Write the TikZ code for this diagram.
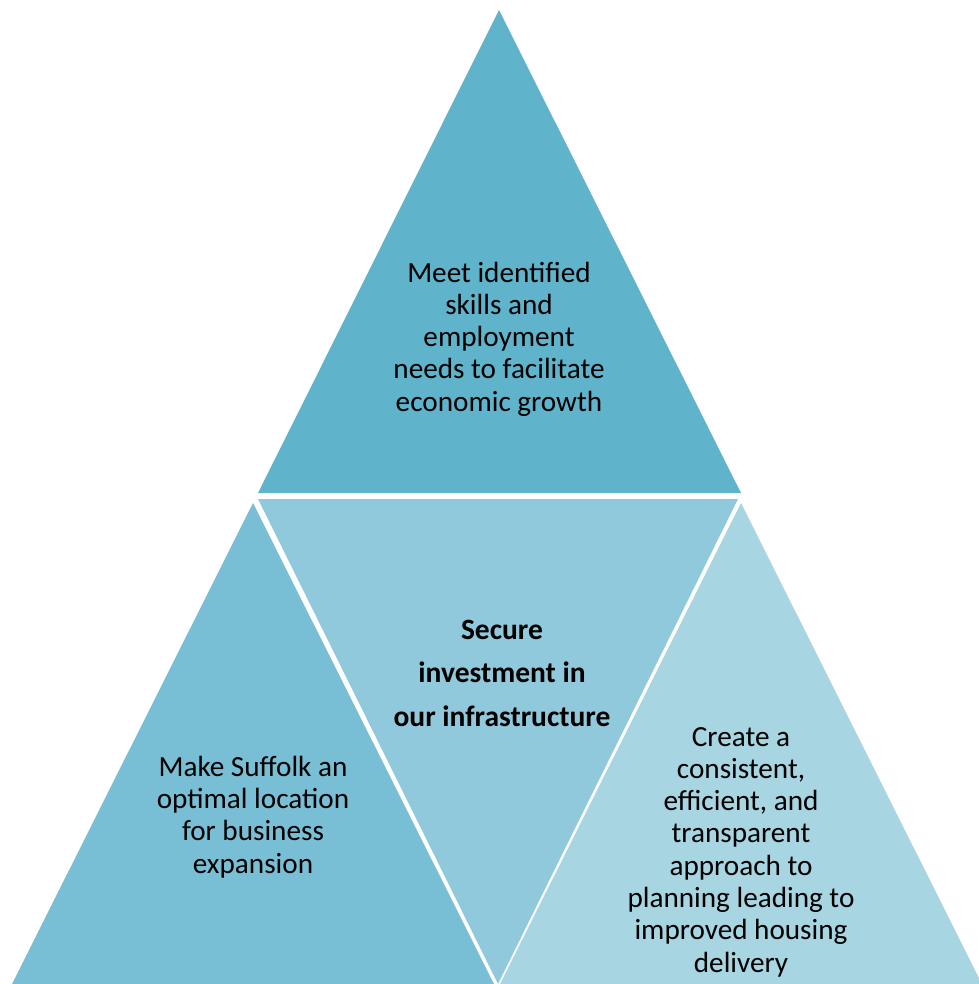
\documentclass[tikz,border=0pt]{standalone}
\usepackage{fontspec}
\setmainfont{Carlito}
\definecolor{ctop}{RGB}{95,179,203}
\definecolor{cmid}{RGB}{145,201,220}
\definecolor{cleft}{RGB}{120,190,212}
\definecolor{cright}{RGB}{168,213,226}
\begin{document}
\begin{tikzpicture}[x=1pt,y=-1pt,
  tri/.style={draw=none},
  lbl/.style={align=center,inner sep=0pt,text=black,font=\fontsize{29.2}{32.3}\selectfont},
  blbl/.style={align=center,inner sep=0pt,text=black,font=\bfseries\fontsize{29.5}{43.5}\selectfont}]
\useasboundingbox (0,0) rectangle (978,984);
\fill[ctop] (499,10) -- (741,493) -- (258,493) -- cycle;
\fill[cmid] (258,499) -- (738,499) -- (498,984) -- cycle;
\fill[cleft] (253,503) -- (494,984) -- (12,984) -- cycle;
\fill[cright] (741,503) -- (982,984) -- (500,984) -- cycle;
\node[lbl] (top) at (499,339) {Meet identified\\skills and\\employment\\needs to facilitate\\economic growth};
\node[blbl] (mid) at (502,673) {Secure\\investment in\\our infrastructure};
\node[lbl] (left) at (253,817) {Make Suffolk an\\optimal location\\for business\\expansion};
\node[lbl] (right) at (741,852) {Create a\\consistent,\\efficient, and\\transparent\\approach to\\planning leading to\\improved housing\\delivery};
\end{tikzpicture}
\end{document}
